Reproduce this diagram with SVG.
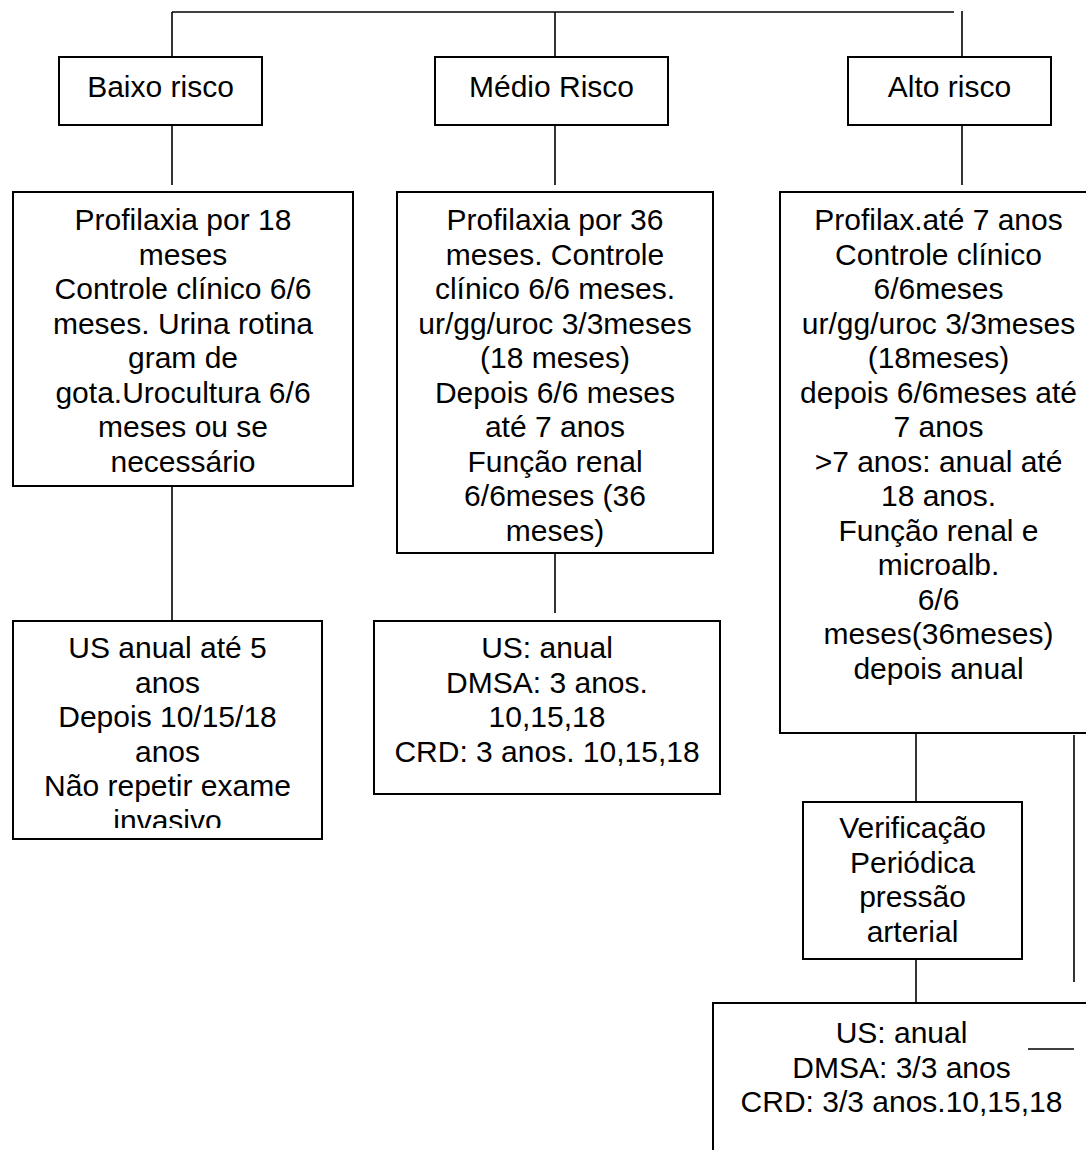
<svg xmlns="http://www.w3.org/2000/svg" width="1086" height="1150" viewBox="0 0 1086 1150">
<style>
.box{fill:#fff;stroke:#000;stroke-width:2}
.ln{fill:none;stroke:#000;stroke-width:1.6}
text{font-family:"Liberation Sans",Arial,sans-serif;font-size:30px;fill:#000;text-anchor:middle}
</style>
<defs>
<clipPath id="clipBaixo3"><rect x="13" y="621" width="309" height="207"/></clipPath>
</defs>
<rect width="1086" height="1150" fill="#fff"/>
<g id="connectors">
<path class="ln" d="M172 12H954"/>
<path class="ln" d="M962 11V57"/>
<path class="ln" d="M172 12V57"/>
<path class="ln" d="M555 12V57"/>
<path class="ln" d="M172 125V185"/>
<path class="ln" d="M555 125V185"/>
<path class="ln" d="M962 125V185"/>
<path class="ln" d="M172 486V621"/>
<path class="ln" d="M555 553V613"/>
<path class="ln" d="M916 733V802"/>
<path class="ln" d="M1074 735V982"/>
<path class="ln" d="M916 958V1003"/>
</g>
<g id="baixo">
<rect class="box" x="59" y="57" width="203" height="68"/>
<text x="160.5" y="97">Baixo risco</text>
</g>
<g id="medio">
<rect class="box" x="435" y="57" width="233" height="68"/>
<text x="551.5" y="97">Médio Risco</text>
</g>
<g id="alto">
<rect class="box" x="848" y="57" width="203" height="68"/>
<text x="949.5" y="97">Alto risco</text>
</g>
<g id="baixo-profilaxia">
<rect class="box" x="13" y="192" width="340" height="294"/>
<text><tspan x="183" y="230">Profilaxia por 18</tspan><tspan x="183" y="264.5">meses</tspan><tspan x="183" y="299">Controle clínico 6/6</tspan><tspan x="183" y="333.5">meses. Urina rotina</tspan><tspan x="183" y="368">gram de</tspan><tspan x="183" y="402.5">gota.Urocultura 6/6</tspan><tspan x="183" y="437">meses ou se</tspan><tspan x="183" y="471.5">necessário</tspan></text>
</g>
<g id="medio-profilaxia">
<rect class="box" x="397" y="192" width="316" height="361"/>
<text><tspan x="555" y="230">Profilaxia por 36</tspan><tspan x="555" y="264.5">meses. Controle</tspan><tspan x="555" y="299">clínico 6/6 meses.</tspan><tspan x="555" y="333.5">ur/gg/uroc 3/3meses</tspan><tspan x="555" y="368">(18 meses)</tspan><tspan x="555" y="402.5">Depois 6/6 meses</tspan><tspan x="555" y="437">até 7 anos</tspan><tspan x="555" y="471.5">Função renal</tspan><tspan x="555" y="506">6/6meses (36</tspan><tspan x="555" y="540.5">meses)</tspan></text>
</g>
<g id="alto-profilaxia">
<rect class="box" x="780" y="192" width="317" height="541"/>
<text><tspan x="938.5" y="230">Profilax.até 7 anos</tspan><tspan x="938.5" y="264.5">Controle clínico</tspan><tspan x="938.5" y="299">6/6meses</tspan><tspan x="938.5" y="333.5">ur/gg/uroc 3/3meses</tspan><tspan x="938.5" y="368">(18meses)</tspan><tspan x="938.5" y="402.5">depois 6/6meses até</tspan><tspan x="938.5" y="437">7 anos</tspan><tspan x="938.5" y="471.5">&gt;7 anos: anual até</tspan><tspan x="938.5" y="506">18 anos.</tspan><tspan x="938.5" y="540.5">Função renal e</tspan><tspan x="938.5" y="575">microalb.</tspan><tspan x="938.5" y="609.5">6/6</tspan><tspan x="938.5" y="644">meses(36meses)</tspan><tspan x="938.5" y="678.5">depois anual</tspan></text>
</g>
<g id="baixo-exames">
<rect class="box" x="13" y="621" width="309" height="218"/>
<text clip-path="url(#clipBaixo3)"><tspan x="167.5" y="658">US anual até 5</tspan><tspan x="167.5" y="692.5">anos</tspan><tspan x="167.5" y="727">Depois 10/15/18</tspan><tspan x="167.5" y="761.5">anos</tspan><tspan x="167.5" y="796">Não repetir exame</tspan><tspan x="167.5" y="830.5">invasivo</tspan></text>
</g>
<g id="medio-exames">
<rect class="box" x="374" y="621" width="346" height="173"/>
<text><tspan x="547" y="658">US: anual</tspan><tspan x="547" y="692.5">DMSA: 3 anos.</tspan><tspan x="547" y="727">10,15,18</tspan><tspan x="547" y="761.5">CRD: 3 anos. 10,15,18</tspan></text>
</g>
<g id="verificacao">
<rect class="box" x="803" y="802" width="219" height="157"/>
<text><tspan x="912.5" y="838">Verificação</tspan><tspan x="912.5" y="872.5">Periódica</tspan><tspan x="912.5" y="907">pressão</tspan><tspan x="912.5" y="941.5">arterial</tspan></text>
</g>
<g id="alto-exames">
<rect class="box" x="713" y="1003" width="377" height="200"/>
<text><tspan x="901.5" y="1043">US: anual</tspan><tspan x="901.5" y="1077.5">DMSA: 3/3 anos</tspan><tspan x="901.5" y="1112">CRD: 3/3 anos.10,15,18</tspan></text>
</g>
<g id="stray-line">
<path class="ln" d="M1028 1049H1074"/>
</g>
</svg>
